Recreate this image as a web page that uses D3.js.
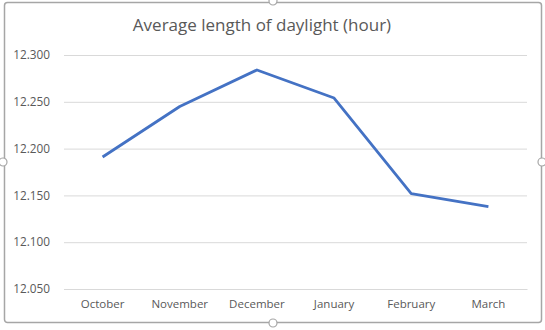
<!DOCTYPE html>
<html>
<head>
<meta charset="utf-8">
<script src="https://cdn.jsdelivr.net/npm/d3@7"></script>
<style>
  body { margin: 0; background: #fff; }
  svg text { font-family: "Open Sans", sans-serif; fill: #595959; }
</style>
</head>
<body>
<svg id="chart" width="545" height="330"></svg>
<script>
const months = ["October", "November", "December", "January", "February", "March"];
const daylight = [12.191, 12.245, 12.284, 12.254, 12.152, 12.138];
const yTicks = [12.05, 12.1, 12.15, 12.2, 12.25, 12.3];
const chartTitle = "Average length of daylight (hour)";

const svg = d3.select("#chart");
const margin = {top: 55, right: 18, bottom: 41, left: 64};
const width = 545 - margin.left - margin.right;
const height = 330 - margin.top - margin.bottom - 1;

// frame with selection handles
svg.append("rect")
    .attr("x", 4.5).attr("y", 2.5)
    .attr("width", 537).attr("height", 320)
    .attr("fill", "#fff")
    .attr("stroke", "#a6a6a6")
    .attr("stroke-width", 1.5)
    .attr("rx", 3);

const handles = [[273, 1], [273, 323], [3, 162], [542, 162]];
svg.selectAll("circle.handle")
    .data(handles)
    .enter()
    .append("circle")
    .attr("class", "handle")
    .attr("cx", d => d[0]).attr("cy", d => d[1])
    .attr("r", 4)
    .attr("fill", "#fff")
    .attr("stroke", "#a6a6a6")
    .attr("stroke-width", 1.2);

svg.append("text")
    .attr("x", 262).attr("y", 31)
    .attr("text-anchor", "middle")
    .attr("font-size", "17px")
    .text(chartTitle);

const x = d3.scaleBand().domain(months).range([0, width]);
const y = d3.scaleLinear().domain([12.05, 12.3]).range([height + 1, 0]);

const plot = svg.append("g")
    .attr("transform", "translate(" + margin.left + "," + margin.top + ")");

/* horizontal gridlines */
plot.append("g")
    .call(d3.axisLeft(y).tickValues(yTicks).tickSize(-width).tickFormat(""))
    .call(g => g.select(".domain").remove())
    .call(g => g.selectAll("line").attr("stroke", "#d9d9d9"));

/* y labels */
plot.append("g")
    .call(d3.axisLeft(y).tickValues(yTicks).tickSize(0).tickPadding(14).tickFormat(d3.format(".3f")))
    .call(g => g.select(".domain").remove())
    .call(g => g.selectAll("text").attr("font-size", "11.8px").attr("fill", "#595959"));

/* x axis */
plot.append("g")
    .attr("transform", "translate(0," + (height + 1) + ")")
    .call(d3.axisBottom(x).tickSize(0).tickPadding(11))
    .call(g => g.select(".domain").attr("stroke", "#d9d9d9"))
    .call(g => g.selectAll("text").attr("font-size", "11.5px").attr("fill", "#595959"));

const line = d3.line()
    .x(d => x(d.m) + x.bandwidth() / 2)
    .y(d => y(d.v));

plot.append("path")
    .datum(months.map((m, i) => ({m: m, v: daylight[i]})))
    .attr("fill", "none")
    .attr("stroke", "#4472c4")
    .attr("stroke-width", 2.8)
    .attr("stroke-linejoin", "round")
    .attr("d", line);
</script>
</body>
</html>
